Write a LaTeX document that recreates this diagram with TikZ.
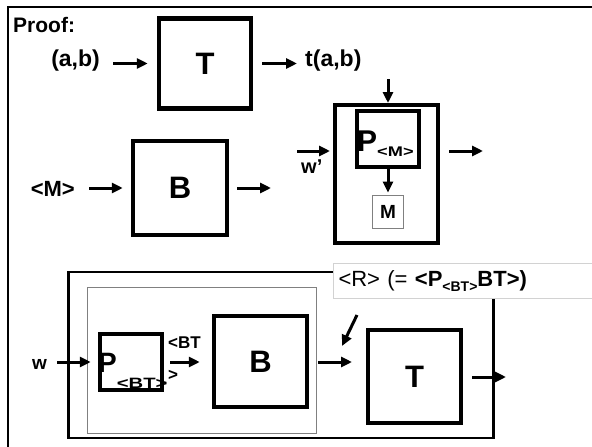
\documentclass[tikz,border=0pt]{standalone}
\usepackage{fontspec}
\setmainfont{Liberation Sans}
\usetikzlibrary{positioning, arrows.meta}
\newcommand{\fsz}[1]{\fontsize{#1}{#1}\selectfont}

\begin{document}
\begin{tikzpicture}[
  x=1pt, y=-1pt,
  >={Triangle[length=11pt,width=10pt]},
  arr/.style={->, line width=3pt},
  blk/.style={draw, line width=4.5pt, minimum width=92pt, minimum height=90pt,
              inner sep=0pt, font=\fsz{31}\bfseries},
  pbox/.style={draw, line width=4.5pt, minimum width=62pt, minimum height=56pt},
  lbl/.style={inner sep=0pt, font=\fsz{23}\bfseries},
]
  \useasboundingbox (0,0) rectangle (592,447);
  \clip (0,0) rectangle (592,447);

  % frame of the slide
  \draw[line width=2.5pt] (8,460) -- (8,7) -- (600,7);
  \node[inner sep=0pt, anchor=base west, font=\fsz{21}\bfseries] (proof) at (13,32) {Proof:};

  % T computes t(a,b)
  \node[blk] (T1) at (205,63.5) {T};
  \node[lbl, anchor=east] (ab) at (100,61) {(a,b)};
  \node[lbl, anchor=west] (tab) at (305,61) {t(a,b)};
  \draw[arr, shorten <=13pt, shorten >=9pt] (ab.east |- T1.west) -- (T1.west);
  \draw[arr, shorten <=9pt, shorten >=8pt] (T1.east) -- (T1.east -| tab.west);

  % B on <M>
  \node[blk, minimum width=94pt, minimum height=94pt] (B1) at (180,188) {B};
  \node[lbl, anchor=east, font=\fsz{22}\bfseries] (m) at (75,189) {<M>};
  \coordinate (b1out) at (271,188);
  \draw[arr, shorten <=14pt, shorten >=8pt] (m.east |- B1.west) -- (B1.west);
  \draw[arr, shorten <=8pt] (B1.east) -- (b1out);

  % machine that prints M
  \node[draw, line width=4pt, minimum width=103pt, minimum height=138pt] (U) at (386.5,174) {};
  \node[draw, line width=4pt, minimum width=62pt, minimum height=56pt] (PM) at (388,139) {};
  \node[inner sep=0pt, anchor=base west, font=\fsz{30}\bfseries] (pmlbl) at (357,151)
    {P\raisebox{-5pt}{\scalebox{1.3}[1]{\fsz{14}<M>}}};
  \node[draw=gray, line width=0.8pt, minimum width=31pt, minimum height=33pt,
        font=\fsz{19}\bfseries] (Mb) at (388,211.5) {M};
  \coordinate (uin) at (388,79);
  \coordinate (win) at (297,151);
  \coordinate (uout) at (483,151);
  \draw[arr] (uin) -- (uin |- U.north);
  \draw[arr, shorten >=2pt] (PM.south) -- (Mb.north);
  \draw[arr, shorten >=3pt] (win) -- (win -| U.west);
  \draw[arr, shorten <=9pt] (U.east |- uout) -- (uout);
  \node[inner sep=0pt, anchor=base west, font=\fsz{20}\bfseries] (wp) at (301,173) {w’};

  % R = P<BT> B T
  \node[draw, line width=2.5pt, minimum width=425pt, minimum height=166pt] (R) at (281,355) {};
  \node[draw=gray, line width=1pt, minimum width=229pt, minimum height=146pt] (Rin) at (202,360.5) {};
  \node[pbox] (PBT) at (131,362) {};
  \node[inner sep=0pt, anchor=base west, font=\fsz{28}\bfseries] (pbtlbl) at (98,372)
    {P\raisebox{-16pt}{\scalebox{1.35}[1]{\fsz{15}<BT>}}};
  \node[blk, minimum width=93pt, minimum height=91pt] (B2) at (260.5,361.5) {B};
  \node[blk, minimum width=93pt, minimum height=93pt] (T2) at (414.5,376.5) {T};
  \node[inner sep=0pt, anchor=north west, align=left,
        font=\fontsize{17}{32}\selectfont\bfseries] (btlbl) at (168,337) {<BT\\>};
  \node[inner sep=0pt, anchor=base east, font=\fsz{19}\bfseries] (w) at (47,369) {w};
  \coordinate (b2out) at (352,362);
  \coordinate (t2out) at (506,377);
  \draw[arr, shorten <=10pt, shorten >=7pt] (w.east |- PBT.west) -- (PBT.west);
  \draw[arr, shorten <=6pt, shorten >=12pt] (PBT.east) -- (PBT.east -| B2.west);
  \draw[arr, shorten <=9pt] (B2.east |- b2out) -- (b2out);
  \draw[arr, shorten <=9pt] (T2.east |- t2out) -- (t2out);

  % name of R
  \node[draw=gray!35, fill=white, line width=1pt, anchor=north west, minimum height=35pt,
        text width=270pt, align=left, inner xsep=5pt, font=\fsz{22}] (rlbl) at (333,263)
    {<R> (= {\bfseries <P\raisebox{-5pt}{\fsz{14}<BT>}BT>)}};
  \coordinate (rtail) at (357,315);
  \coordinate (rhead) at (342,346);
  \draw[arr] (rtail) -- (rhead);
\end{tikzpicture}
\end{document}
